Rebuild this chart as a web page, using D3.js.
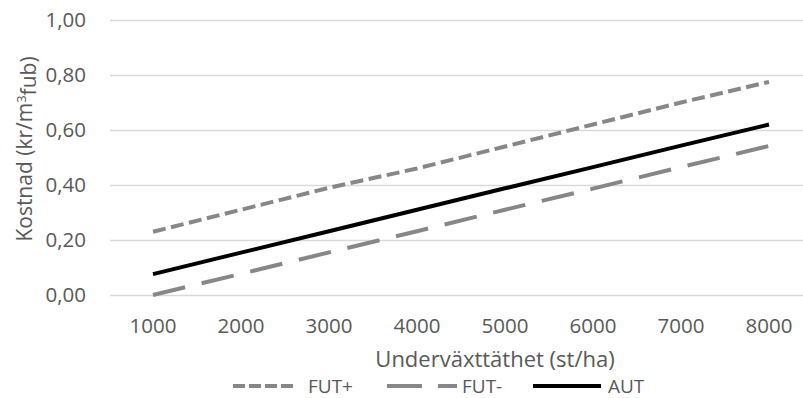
<!DOCTYPE html>
<html>
<head>
<meta charset="utf-8">
<script src="https://cdn.jsdelivr.net/npm/d3@7"></script>
<style>
  body { margin: 0; background: #fff; }
  text { font-family: "Open Sans", sans-serif; fill: #595959; }
</style>
</head>
<body>
<svg id="chart" width="803" height="398"></svg>
<script>
// data
const categories = [1000, 2000, 3000, 4000, 5000, 6000, 7000, 8000];
const futPlus  = [0.23, 0.31, 0.39, 0.46, 0.54, 0.62, 0.70, 0.775];
const futMinus = [0.00, 0.077, 0.155, 0.232, 0.31, 0.387, 0.465, 0.542];
const aut      = [0.076, 0.154, 0.232, 0.31, 0.388, 0.465, 0.543, 0.62];
const yTicks = [0, 0.2, 0.4, 0.6, 0.8, 1.0];

const series = [
    { name: "FUT+", values: futPlus,  color: "#878787", dash: "13 5.5", legendDash: "12 4" },
    { name: "FUT-", values: futMinus, color: "#878787", dash: "33 17",  legendDash: "35 16 19" },
    { name: "AUT",  values: aut,      color: "#000000", dash: null,     legendDash: null }
];

const svg = d3.select("#chart");

const x = d3.scaleBand()
    .domain(categories)
    .range([109, 813]);

const y = d3.scaleLinear()
    .domain([0, 1])
    .range([295, 20]);

const fmt = d => d3.format(".2f")(d).replace(".", ",");

// gridlines
svg.append("g")
    .selectAll("line")
    .data(yTicks)
    .enter()
    .append("line")
    .attr("x1", 110)
    .attr("x2", 803)
    .attr("y1", d => Math.round(y(d)) + 0.5)
    .attr("y2", d => Math.round(y(d)) + 0.5)
    .attr("stroke", "#d9d9d9")
    .attr("stroke-width", 1.3);

// y tick labels
svg.append("g")
    .selectAll("text")
    .data(yTicks)
    .enter()
    .append("text")
    .attr("x", 86)
    .attr("y", d => y(d))
    .attr("dy", "0.36em")
    .attr("text-anchor", "end")
    .style("font-size", "20.5px")
    .text(fmt);

// x tick labels
svg.append("g")
    .selectAll("text")
    .data(categories)
    .enter()
    .append("text")
    .attr("x", d => x(d) + x.bandwidth() / 2)
    .attr("y", 333)
    .attr("text-anchor", "middle")
    .style("font-size", "20.5px")
    .text(d => d);

// axis titles
svg.append("text")
    .attr("x", 495)
    .attr("y", 367)
    .attr("text-anchor", "middle")
    .style("font-size", "22px")
    .text("Underväxttäthet (st/ha)");

const yTitle = svg.append("text")
    .attr("transform", "translate(32,149) rotate(-90)")
    .attr("text-anchor", "middle")
    .style("font-size", "21px");
yTitle.append("tspan").text("Kostnad (kr/m");
yTitle.append("tspan").attr("dy", "-0.45em").style("font-size", "13px").text("3");
yTitle.append("tspan").attr("dy", "0.45em").text("fub)");

// lines
const line = d3.line()
    .x((d, i) => x(categories[i]) + x.bandwidth() / 2)
    .y(d => y(d));

series.forEach(s => {
    svg.append("path")
        .datum(s.values)
        .attr("fill", "none")
        .attr("stroke", s.color)
        .attr("stroke-width", 4)
        .attr("stroke-dasharray", s.dash)
        .attr("d", line);
});

// legend
const legendX = [233, 387, 533];
const legendLen = [60, 70, 68];
const legend = svg.append("g");
series.forEach((s, i) => {
    legend.append("line")
        .attr("x1", legendX[i])
        .attr("x2", legendX[i] + legendLen[i])
        .attr("y1", 386)
        .attr("y2", 386)
        .attr("stroke", s.color)
        .attr("stroke-width", 4)
        .attr("stroke-dasharray", s.legendDash);
    legend.append("text")
        .attr("x", legendX[i] + 75)
        .attr("y", 386)
        .attr("dy", "0.36em")
        .style("font-size", "19px")
        .text(s.name);
});
</script>
</body>
</html>
